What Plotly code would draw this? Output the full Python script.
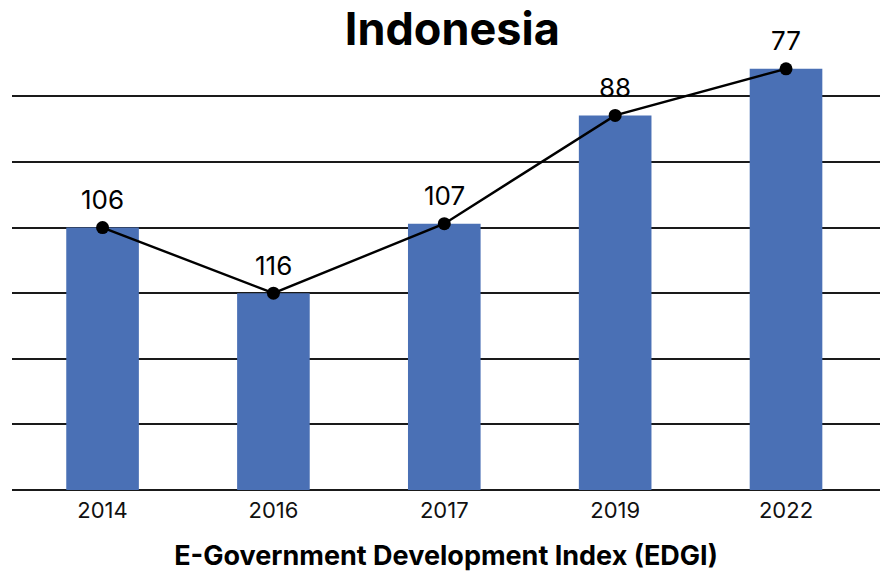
import plotly.graph_objects as go

years = ["2014", "2016", "2017", "2019", "2022"]
bar_heights = [4.0, 3.0, 4.06, 5.71, 6.42]
ranks = [106, 116, 107, 88, 77]

BAR_COLOR = "#4A70B5"
FONT = "Inter, Roboto, sans-serif"

fig = go.Figure()
fig.add_trace(go.Bar(
    x=years, y=bar_heights,
    marker=dict(color=BAR_COLOR, line=dict(width=0)),
    hoverinfo="skip", showlegend=False,
))
fig.add_trace(go.Scatter(
    x=years, y=bar_heights,
    mode="lines+markers",
    line=dict(color="black", width=2.4),
    marker=dict(color="black", size=13),
    showlegend=False, cliponaxis=False,
))

annotations = [
    dict(x=i, y=h, xref="x", yref="y", text=str(r), showarrow=False, yshift=28,
         xanchor="center", yanchor="middle",
         font=dict(family=FONT, size=26, color="black"))
    for i, (h, r) in enumerate(zip(bar_heights, ranks))
]

fig.update_layout(
    width=880, height=577,
    margin=dict(l=12, r=0, t=57, b=87),
    paper_bgcolor="white", plot_bgcolor="white",
    bargap=0.575,
    annotations=annotations,
    title=dict(text="<b>Indonesia</b>", x=0.514, xanchor="center",
               y=0.95, yanchor="middle",
               font=dict(family=FONT, size=45, color="black")),
    xaxis=dict(
        type="category", range=[-0.53, 4.55],
        showgrid=False, showline=False, ticks="",
        ticklabelstandoff=5,
        tickfont=dict(family=FONT, size=22, color="#111"),
        title=dict(text="<b>E-Government Development Index (EDGI)</b>",
                   font=dict(family=FONT, size=27, color="black"), standoff=24),
    ),
    yaxis=dict(
        range=[0, 6.6], dtick=1, tick0=0,
        showticklabels=False, ticks="",
        showgrid=True, gridcolor="#1a1a1a", gridwidth=1.5,
        zeroline=True, zerolinecolor="#1a1a1a", zerolinewidth=1.8,
        showline=False,
    ),
    font=dict(family=FONT),
)

fig.write_html("out.html")
